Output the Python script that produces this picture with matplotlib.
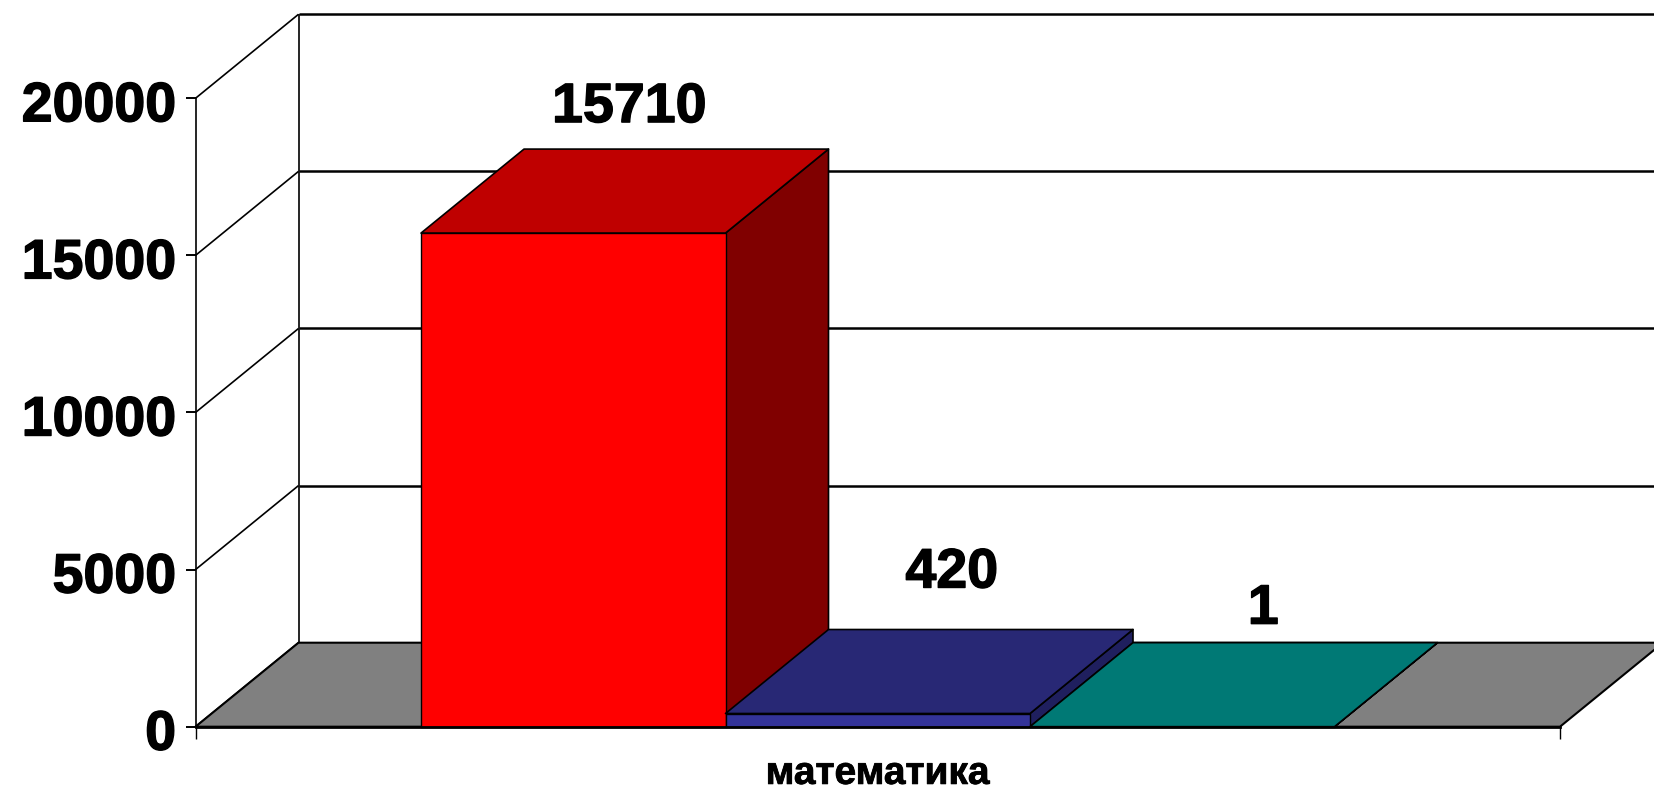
import matplotlib
matplotlib.use('Agg')
import matplotlib.pyplot as plt
import matplotlib.patheffects as pe
from matplotlib.patches import Polygon
from matplotlib.transforms import ScaledTranslation

categories = ['математика']
series_values = [15710, 420, 1]
y_ticks = [0, 5000, 10000, 15000, 20000]

# цвета граней: передняя, верхняя, боковая
front_colors = ['#FF0000', '#333399', '#007975']
top_colors = ['#BF0000', '#282875', '#007975']
side_colors = ['#800000', '#1F1F5E', '#007975']
floor_color = '#808080'

W, H = 1654, 792
LEFT, RIGHT = 195.5, 1560.0
BOTTOM, TOP = 726.7, 98.3

fig = plt.figure(figsize=(W / 100, H / 100), dpi=100, facecolor='white')
ax = fig.add_axes([LEFT / W, 1 - BOTTOM / H, (RIGHT - LEFT) / W, (BOTTOM - TOP) / H])
ax.set_xlim(0, 1)
ax.set_ylim(0, 20000)
ax.patch.set_visible(False)

# глубина псевдо-3D в единицах данных
depth_x = 103 / (RIGHT - LEFT)
depth_y = 84 / (BOTTOM - TOP) * 20000
bar_w = 304.5 / (RIGHT - LEFT)
start = (1 - bar_w * len(series_values)) / 2

# утолщение шрифта, в оригинале цифры жирнее
thick = [pe.withStroke(linewidth=1.0, foreground='black')]


def poly(points, color, edge='black', lw=1.2, z=2):
    ax.add_patch(Polygon(points, closed=True, facecolor=color, edgecolor=edge,
                         linewidth=lw, clip_on=False, zorder=z, joinstyle='round'))


def line(xs, ys, lw=1.2, z=1):
    ax.plot(xs, ys, color='black', lw=lw, clip_on=False, zorder=z, solid_capstyle='butt')


# задняя и боковая стенки с сеткой
for t in y_ticks:
    line([0, depth_x], [t, t + depth_y])
    line([depth_x, 1 + depth_x], [t + depth_y, t + depth_y], lw=1.8)
line([depth_x, depth_x], [depth_y, 20000 + depth_y])

# пол
poly([(0, 0), (1, 0), (1 + depth_x, depth_y), (depth_x, depth_y)], floor_color, lw=1.5)

# столбцы слева направо
for i, val in enumerate(series_values):
    x0 = start + i * bar_w
    x1 = x0 + bar_w
    poly([(x1, 0), (x1 + depth_x, depth_y), (x1 + depth_x, val + depth_y), (x1, val)],
         side_colors[i], z=3 + i)
    poly([(x0, val), (x1, val), (x1 + depth_x, val + depth_y), (x0 + depth_x, val + depth_y)],
         top_colors[i], z=3 + i)
    poly([(x0, 0), (x1, 0), (x1, val), (x0, val)], front_colors[i], lw=1.0, z=3 + i)

# подписи значений, смещение в пикселях от середины передней грани
label_offsets = [(56, 125), (74, 140), (81, 117)]
for i, val in enumerate(series_values):
    ax.annotate(str(val), xy=(start + (i + 0.5) * bar_w, val),
                xytext=(label_offsets[i][0] * 0.72, label_offsets[i][1] * 0.72),
                textcoords='offset points', ha='center', va='center',
                fontsize=40, fontweight='bold', family='Liberation Sans', zorder=10,
                annotation_clip=False, path_effects=thick)

# оси
for name in ['top', 'right']:
    ax.spines[name].set_visible(False)
ax.spines['left'].set_linewidth(1.2)
ax.spines['bottom'].set_linewidth(2.0)
ax.spines['bottom'].set_zorder(9)
ax.set_yticks(y_ticks)
ax.set_yticklabels([str(t) for t in y_ticks], fontsize=40, fontweight='bold',
                   family='Liberation Sans', path_effects=thick)
ax.tick_params(axis='y', length=7, width=1.4, pad=7)
ax.set_xticks([0, 1])
ax.set_xticklabels(['', ''])
ax.tick_params(axis='x', length=8.5, width=1.0)
ax.set_xlabel(categories[0], fontsize=28, fontweight='bold', family='Liberation Sans',
              labelpad=9, path_effects=[pe.withStroke(linewidth=0.6, foreground='black')])

shift = ScaledTranslation(0, -3 / 100, fig.dpi_scale_trans)
for lab in ax.get_yticklabels():
    lab.set_transform(lab.get_transform() + shift)

fig.savefig('out.png', dpi=100, facecolor='white')
